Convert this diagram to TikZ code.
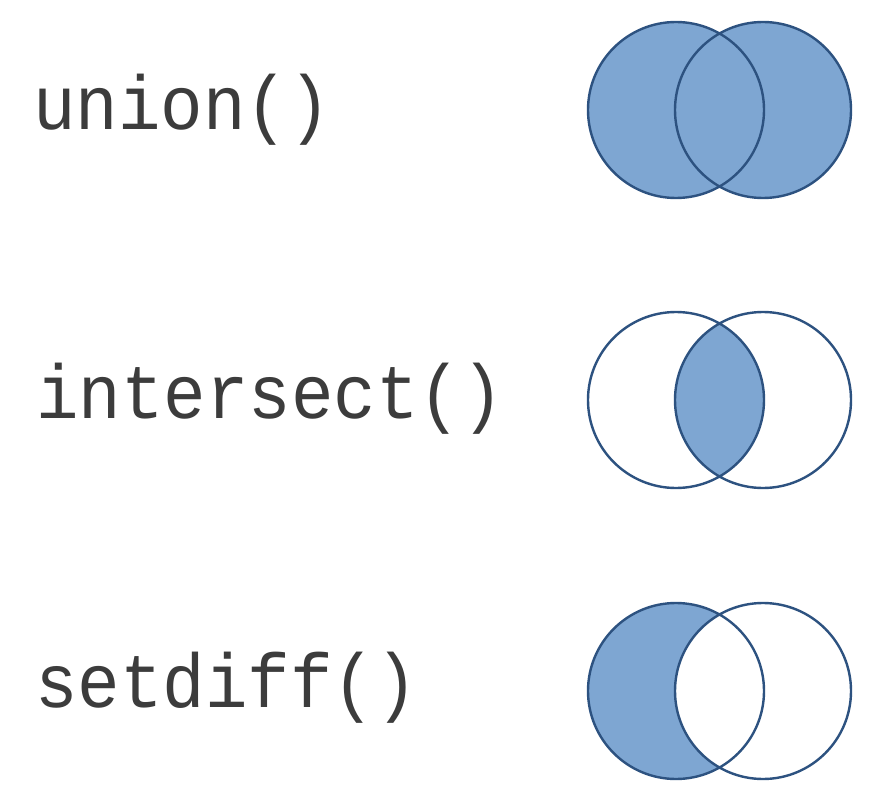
\documentclass[tikz,border=0pt]{standalone}
\usepackage{fontspec}
\setmonofont{Liberation Mono}
\definecolor{setfill}{RGB}{126,166,210}
\definecolor{setline}{RGB}{45,82,128}
\definecolor{txt}{RGB}{60,60,60}
\begin{document}
\begin{tikzpicture}[x=1pt,y=-1pt,
  lbl/.style={anchor=base west,inner sep=0pt,text=txt,font=\ttfamily\fontsize{70.8}{80}\selectfont},
  ring/.style={draw=setline,line width=2.4pt},
  shade/.style={fill=setfill}]
\useasboundingbox[fill=white] (0,0) rectangle (894,810);
\def\R{88}
% labels
\node[lbl] (tunion) at (33,130) {\scalebox{1}[1.08]{union()}};
\node[lbl] (tinter) at (36,418) {\scalebox{1}[1.08]{intersect()}};
\node[lbl] (tdiff) at (35,707) {\scalebox{1}[1.08]{setdiff()}};
% union
\fill[shade] (676,110) circle (\R) (763,110) circle (\R);
\draw[ring] (676,110) circle (\R) (763,110) circle (\R);
% intersect
\begin{scope}
  \clip (676,400) circle (\R);
  \fill[shade] (763,400) circle (\R);
\end{scope}
\draw[ring] (676,400) circle (\R) (763,400) circle (\R);
% setdiff
\begin{scope}
  \clip (676,691) circle (\R);
  \fill[shade] (676,691) circle (\R);
  \fill[white] (763,691) circle (\R);
\end{scope}
\draw[ring] (676,691) circle (\R) (763,691) circle (\R);
\end{tikzpicture}
\end{document}
